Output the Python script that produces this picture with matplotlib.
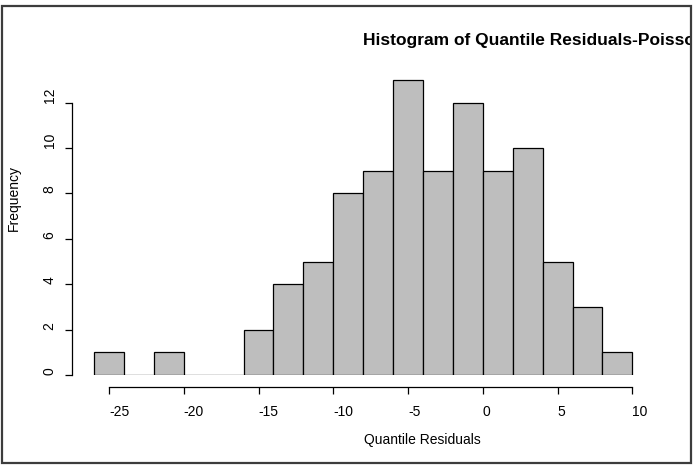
import numpy as np
import matplotlib.pyplot as plt
from matplotlib.patches import Rectangle

# histogram bins (width 2) and counts
bin_edges = [-26, -24, -22, -20, -18, -16, -14, -12, -10, -8, -6, -4, -2, 0, 2, 4, 6, 8, 10]
counts = [1, 0, 1, 0, 0, 2, 4, 5, 8, 9, 13, 9, 12, 9, 10, 5, 3, 1]
x_ticks = [-25, -20, -15, -10, -5, 0, 5, 10]
y_ticks = [0, 2, 4, 6, 8, 10, 12]

plt.rcParams['font.family'] = ['Liberation Sans', 'DejaVu Sans']
plt.rcParams['font.size'] = 10

W, H = 694, 466
fig = plt.figure(figsize=(W / 100, H / 100), dpi=100)

# axes placed so that x=-25 sits at ~109px and x=10 at ~632px, y=0 at 375px
ax = fig.add_axes([79.1 / W, (H - 375) / H, 568.2 / W, 317.7 / H])

edges = np.array(bin_edges, dtype=float)
ax.bar(edges[:-1], counts, width=np.diff(edges), align='edge',
       color='#bebebe', edgecolor='black', linewidth=0.9)

ax.set_xlim(-27, 11)
ax.set_ylim(0, 14)

for s in ['top', 'right']:
    ax.spines[s].set_visible(False)
ax.spines['bottom'].set_bounds(-25, 10)
ax.spines['left'].set_bounds(0, 12)
ax.spines['bottom'].set_position(('outward', 8.4))
ax.spines['left'].set_position(('outward', 5.1))
for s in ['bottom', 'left']:
    ax.spines[s].set_linewidth(0.9)

ax.set_xticks(x_ticks)
ax.set_xticklabels([str(t) for t in x_ticks], ha='left')
ax.set_yticks(y_ticks)
ax.set_yticklabels([str(t) for t in y_ticks], rotation=90, va='bottom', ha='right')
ax.tick_params(axis='both', direction='out', length=5, width=0.9, labelsize=10)
ax.tick_params(axis='x', pad=8)
ax.tick_params(axis='y', pad=6)

fig.text(422 / W, 1 - 440 / H, 'Quantile Residuals', ha='center', va='center', fontsize=10)
fig.text(14 / W, 1 - 198 / H, 'Frequency', ha='center', va='center', rotation=90, fontsize=10)

frame = Rectangle((1.5 / W, 1 - 463 / H), 689.5 / W, 457.3 / H, transform=fig.transFigure,
                  fill=False, edgecolor='#3c3c3c', linewidth=1.6)
fig.patches.append(frame)

title = fig.text(363 / W, 1 - 41 / H, 'Histogram of Quantile Residuals-Poisson',
                 ha='left', va='center', fontsize=12.5, fontweight='bold')
title.set_clip_path(Rectangle((0, 0), 690 / W, 1, transform=fig.transFigure))

plt.savefig('out.png', dpi=100)
